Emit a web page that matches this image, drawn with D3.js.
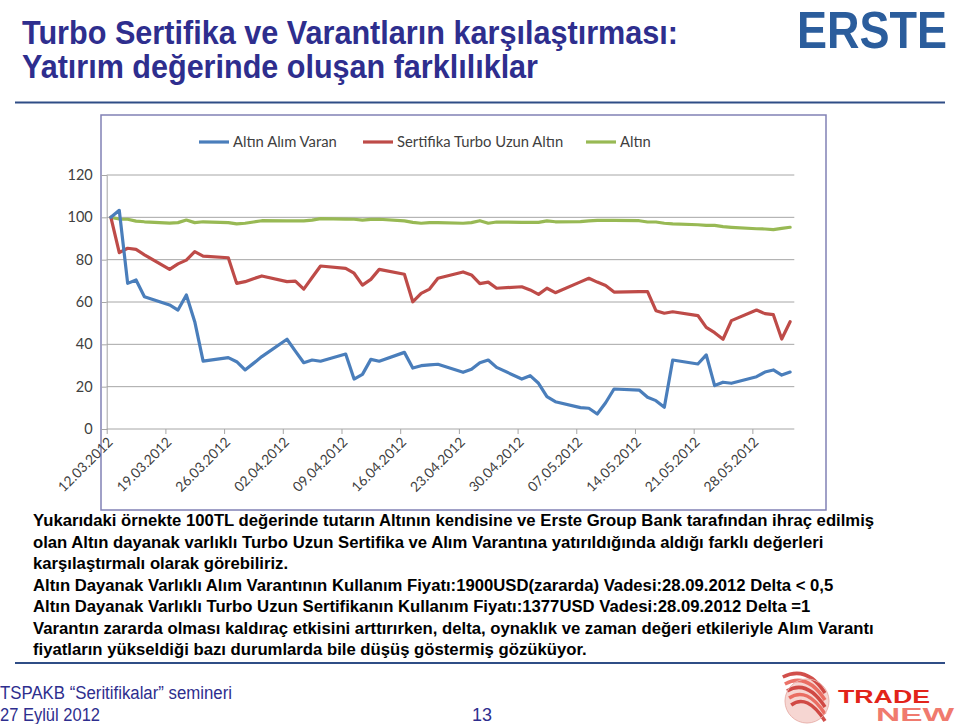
<!DOCTYPE html>
<html>
<head>
<meta charset="utf-8">
<script src="https://cdn.jsdelivr.net/npm/d3@7/dist/d3.min.js"></script>
<style>
  html, body { margin: 0; padding: 0; background: #ffffff; }
  svg { display: block; }
</style>
</head>
<body>
<svg id="slide" width="960" height="724"></svg>
<script>
// ---------------- DATA ----------------
const tradingDays = [
  "2012-03-12","2012-03-13","2012-03-14","2012-03-15","2012-03-16",
  "2012-03-19","2012-03-20","2012-03-21","2012-03-22","2012-03-23",
  "2012-03-26","2012-03-27","2012-03-28","2012-03-29","2012-03-30",
  "2012-04-02","2012-04-03","2012-04-04","2012-04-05","2012-04-06",
  "2012-04-09","2012-04-10","2012-04-11","2012-04-12","2012-04-13",
  "2012-04-16","2012-04-17","2012-04-18","2012-04-19","2012-04-20",
  "2012-04-23","2012-04-24","2012-04-25","2012-04-26","2012-04-27",
  "2012-04-30","2012-05-01","2012-05-02","2012-05-03","2012-05-04",
  "2012-05-07","2012-05-08","2012-05-09","2012-05-10","2012-05-11",
  "2012-05-14","2012-05-15","2012-05-16","2012-05-17","2012-05-18",
  "2012-05-21","2012-05-22","2012-05-23","2012-05-24","2012-05-25",
  "2012-05-28","2012-05-29","2012-05-30","2012-05-31","2012-06-01"
];
const varantValues = [
  100, 103.3, 68.8, 70.4, 62.5,
  58.6, 56.2, 63.3, 50.7, 32.1,
  33.7, 31.8, 27.9, 31.0, 34.2,
  42.4, 36.8, 31.3, 32.6, 32.0,
  35.4, 23.6, 25.8, 32.9, 32.0,
  36.2, 28.8, 29.9, 30.3, 30.6,
  26.8, 28.2, 31.3, 32.6, 29.1,
  23.6, 25.2, 21.6, 15.3, 12.9,
  10.1, 9.8, 7.1, 12.4, 18.9,
  18.4, 15.0, 13.4, 10.3, 32.6,
  30.7, 35.0, 20.5, 22.1, 21.6,
  24.7, 26.9, 27.9, 25.5, 26.9
];
const sertifikaValues = [
  100, 83.3, 85.4, 84.9, 82.3,
  75.4, 78.0, 79.8, 83.8, 81.7,
  80.9, 68.8, 69.6, 71.0, 72.3,
  69.6, 69.9, 66.1, 71.6, 77.0,
  75.9, 73.6, 68.0, 70.7, 75.4,
  73.1, 60.1, 64.1, 66.1, 71.2,
  74.2, 72.8, 68.7, 69.4, 66.5,
  67.2, 65.7, 63.6, 66.5, 64.4,
  69.5, 71.2, 69.4, 67.8, 64.7,
  64.9, 64.9, 55.9, 54.7, 55.4,
  53.6, 48.0, 45.5, 42.4, 51.2,
  56.2, 54.5, 54.0, 42.5, 50.7
];
const altinValues = [
  100, 99.2, 99.1, 98.2, 97.9,
  97.3, 97.5, 98.7, 97.5, 97.9,
  97.5, 96.9, 97.2, 97.8, 98.4,
  98.3, 98.3, 98.3, 98.7, 99.4,
  99.2, 99.1, 98.7, 99.0, 99.1,
  98.3, 97.6, 97.2, 97.5, 97.5,
  97.2, 97.5, 98.4, 97.2, 97.8,
  97.6, 97.6, 97.6, 98.3, 97.9,
  98.0, 98.3, 98.6, 98.6, 98.6,
  98.4, 97.8, 97.8, 97.2, 96.9,
  96.5, 96.2, 96.2, 95.6, 95.3,
  94.6, 94.5, 94.2, 94.8, 95.3
];
const seriesNames = ["Altın Alım Varan", "Sertifika Turbo Uzun Altın", "Altın"];
const seriesColors = ["#4a7ebb", "#be4b48", "#98b954"];
const yTicks = [0, 20, 40, 60, 80, 100, 120];
const xTickLabels = ["12.03.2012","19.03.2012","26.03.2012","02.04.2012","09.04.2012","16.04.2012",
                     "23.04.2012","30.04.2012","07.05.2012","14.05.2012","21.05.2012","28.05.2012"];
const titleLines = ["Turbo Sertifika ve Varantların karşılaştırması:", "Yatırım değerinde oluşan farklılıklar"];
const bodyLines = [
  "Yukarıdaki örnekte 100TL değerinde tutarın Altının kendisine ve Erste Group Bank tarafından ihraç edilmiş",
  "olan Altın dayanak varlıklı Turbo Uzun Sertifika ve Alım Varantına yatırıldığında aldığı  farklı değerleri",
  "karşılaştırmalı olarak görebiliriz.",
  "Altın Dayanak Varlıklı Alım Varantının Kullanım Fiyatı:1900USD(zararda) Vadesi:28.09.2012 Delta < 0,5",
  "Altın Dayanak Varlıklı Turbo Uzun Sertifikanın Kullanım Fiyatı:1377USD Vadesi:28.09.2012 Delta =1",
  "Varantın zararda olması kaldıraç etkisini arttırırken, delta, oynaklık ve zaman değeri etkileriyle Alım Varantı",
  "fiyatların yükseldiği bazı durumlarda bile düşüş göstermiş gözüküyor."
];
const footerLines = ["TSPAKB “Seritifikalar” semineri", "27 Eylül 2012"];
const pageNumber = "13";

// ---------------- DRAW ----------------
const svg = d3.select("#slide");
const parse = d3.timeParse("%Y-%m-%d");
const noon = d => new Date(d.getFullYear(), d.getMonth(), d.getDate(), 12);
const dates = tradingDays.map(s => noon(parse(s)));

const titleColor = "#2e2e8e";
const sans = "'Liberation Sans', Arial, sans-serif";

// Title
svg.selectAll("text.title").data(titleLines).join("text")
  .attr("class", "title")
  .attr("x", 22).attr("y", (d, i) => 44 + i * 34)
  .attr("font-family", sans).attr("font-weight", "bold").attr("font-size", 33)
  .attr("fill", titleColor)
  .attr("textLength", (d, i) => i === 0 ? 656 : 516)
  .attr("lengthAdjust", "spacingAndGlyphs")
  .text(d => d);

// ERSTE logo
svg.append("text").attr("transform", "translate(797,48) scale(1,1.12)")
  .attr("font-family", sans).attr("font-weight", "bold").attr("font-size", 47)
  .attr("fill", "#2b5d9c").attr("textLength", 150).attr("lengthAdjust", "spacingAndGlyphs")
  .text("ERSTE");

// separators
svg.append("line").attr("x1", 15).attr("x2", 945).attr("y1", 102.5).attr("y2", 102.5)
  .attr("stroke", "#2f4d86").attr("stroke-width", 2);
svg.append("line").attr("x1", 15).attr("x2", 945).attr("y1", 663).attr("y2", 663)
  .attr("stroke", "#2f4d86").attr("stroke-width", 2);

// chart frame
svg.append("rect").attr("x", 101).attr("y", 115).attr("width", 725).attr("height", 395)
  .attr("fill", "#ffffff").attr("stroke", "#8181b5").attr("stroke-width", 1.5);

// scales
const x = d3.scaleTime()
  .domain([new Date(2012, 2, 12, 0), new Date(2012, 5, 2, 0)])
  .range([106.7, 794.3]);
const y = d3.scaleLinear().domain([0, 120]).range([429, 175]);

const plot = svg.append("g");
const labelFont = "Lato, 'Open Sans', sans-serif";

// gridlines + y axis
const yAxis = d3.axisLeft(y).tickValues(yTicks).tickSize(5).tickPadding(9).tickFormat(d3.format("d"));
const yg = plot.append("g").attr("transform", `translate(${x.range()[0]},0)`).call(yAxis);
yg.select(".domain").attr("stroke", "#a6a6a6");
yg.selectAll(".tick line").attr("stroke", "#a6a6a6");
yg.selectAll(".tick text").attr("font-family", labelFont).attr("font-size", 14.5).attr("fill", "#404040");
plot.append("g").selectAll("line").data(yTicks.filter(v => v > 0)).join("line")
  .attr("x1", x.range()[0]).attr("x2", x.range()[1])
  .attr("y1", d => y(d)).attr("y2", d => y(d))
  .attr("stroke", "#a6a6a6").attr("stroke-width", 1);

// x axis
const tickDates = xTickLabels.map(s => { const p = s.split("."); return new Date(+p[2], +p[1] - 1, +p[0], 0); });
const xAxis = d3.axisBottom(x).tickValues(tickDates).tickSize(5).tickFormat(() => "");
const xg = plot.append("g").attr("transform", `translate(0,${y(0)})`).call(xAxis);
xg.select(".domain").attr("stroke", "#a6a6a6").attr("d", `M${x.range()[0]},0H${x.range()[1]}`);
xg.selectAll(".tick line").attr("stroke", "#a6a6a6");
plot.append("g").selectAll("text").data(xTickLabels).join("text")
  .attr("transform", (d, i) => `translate(${x(tickDates[i]) + 7},${y(0) + 14}) rotate(-45)`)
  .attr("text-anchor", "end")
  .attr("font-family", labelFont).attr("font-size", 13.8).attr("fill", "#404040")
  .text(d => d);

// lines
const series = [varantValues, sertifikaValues, altinValues];
const line = d3.line().x((d, i) => x(dates[i])).y(d => y(d));
[2, 1, 0].forEach(k => {
  plot.append("path").datum(series[k])
    .attr("d", line)
    .attr("fill", "none").attr("stroke", seriesColors[k])
    .attr("stroke-width", 3.2).attr("stroke-linejoin", "round").attr("stroke-linecap", "round");
});

// legend
const legendX = [199, 363, 586];
const lg = plot.append("g");
seriesNames.forEach((n, i) => {
  lg.append("line").attr("x1", legendX[i]).attr("x2", legendX[i] + 30)
    .attr("y1", 142).attr("y2", 142).attr("stroke", seriesColors[i]).attr("stroke-width", 3.2);
  lg.append("text").attr("x", legendX[i] + 34).attr("y", 142).attr("dy", "0.35em")
    .attr("font-family", labelFont).attr("font-size", 14.8).attr("fill", "#404040").text(n);
});

// body text
svg.selectAll("text.body").data(bodyLines).join("text")
  .attr("class", "body")
  .attr("x", 33).attr("y", (d, i) => 526 + i * 21.5)
  .attr("font-family", sans).attr("font-weight", "bold")
  .attr("font-size", 16.7).attr("fill", "#000000")
  .text(d => d);

// footer
svg.selectAll("text.footer").data(footerLines).join("text")
  .attr("class", "footer")
  .attr("x", 0).attr("y", (d, i) => 699 + i * 22)
  .attr("font-family", sans).attr("font-size", 18).attr("fill", titleColor)
  .attr("textLength", (d, i) => i === 0 ? 232 : 100)
  .attr("lengthAdjust", "spacingAndGlyphs")
  .text(d => d);
svg.append("text").attr("x", 472).attr("y", 721)
  .attr("font-family", sans).attr("font-size", 18).attr("fill", titleColor)
  .attr("textLength", 20).attr("lengthAdjust", "spacingAndGlyphs").text(pageNumber);

// TRADE NEW logo
const orb = svg.append("g").attr("transform", "translate(807,701)");
orb.append("circle").attr("r", 22).attr("fill", "#f6d6d2");
[-14, -7, 0, 7, 14].forEach((o, i) => {
  orb.append("path")
    .attr("d", `M${-20 + o * 0.3},${o - 10} Q0,${o - 22} ${18},${o + 6}`)
    .attr("fill", "none").attr("stroke", i % 2 ? "#e85a4f" : "#c9302c").attr("stroke-width", 3.5)
    .attr("opacity", 0.85);
});
orb.append("circle").attr("r", 22).attr("fill", "none").attr("stroke", "#e9b3ad").attr("stroke-width", 1);
svg.append("text").attr("transform", "translate(838,703) scale(1,1.3)")
  .attr("font-family", sans).attr("font-weight", "bold").attr("font-size", 14)
  .attr("fill", "#e2231a").attr("textLength", 92).attr("lengthAdjust", "spacingAndGlyphs").text("TRADE");
svg.append("text").attr("transform", "translate(876,721) scale(1,1.3)")
  .attr("font-family", sans).attr("font-weight", "bold").attr("font-size", 14)
  .attr("fill", "#f07a6e").attr("textLength", 78).attr("lengthAdjust", "spacingAndGlyphs").text("NEW");
</script>
</body>
</html>
